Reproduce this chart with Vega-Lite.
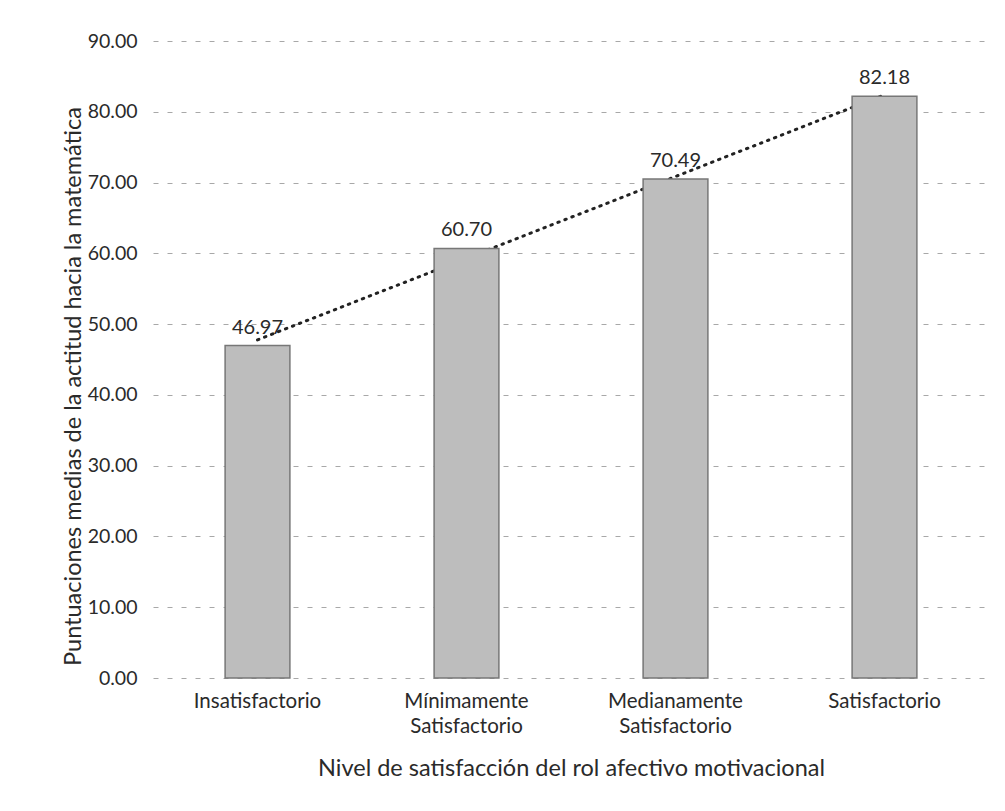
{
  "$schema": "https://vega.github.io/schema/vega-lite/v6.json",
  "autosize": {"type": "none"},
  "width": 836,
  "height": 637,
  "padding": {"left": 153, "top": 41, "right": 16, "bottom": 133},
  "background": "white",
  "config": {
    "view": {"stroke": null},
    "font": "Lato",
    "text": {"font": "Lato"},
    "axisY": {
      "titleFont": "Lato", "titleFontSize": 23.5, "titleFontWeight": "normal", "titleColor": "#2a2a2a",
      "titleAngle": -90, "titleAlign": "center", "titleBaseline": "middle",
      "titleX": -80, "titleY": 345,
      "labelFont": "Lato", "labelFontSize": 19.5, "labelColor": "#2a2a2a", "labelPadding": 16,
      "domain": false, "ticks": false,
      "grid": true, "gridColor": "#a8a8a8", "gridDash": [5, 9], "gridWidth": 1
    }
  },
  "data": {
    "values": [
      {"nivel": "Insatisfactorio", "puntuacion": 46.97},
      {"nivel": "Mínimamente Satisfactorio", "puntuacion": 60.70},
      {"nivel": "Medianamente Satisfactorio", "puntuacion": 70.49},
      {"nivel": "Satisfactorio", "puntuacion": 82.18}
    ]
  },
  "layer": [
    {
      "transform": [
        {"window": [{"op": "row_number", "as": "orden"}]},
        {"regression": "puntuacion", "on": "orden", "method": "linear", "extent": [1, 4]}
      ],
      "mark": {"type": "line", "color": "#222222", "strokeWidth": 3, "strokeDash": [1.5, 6], "strokeCap": "round"},
      "encoding": {
        "x": {"field": "orden", "type": "quantitative", "scale": {"domain": [0.5, 4.5], "nice": false, "zero": false}, "axis": null},
        "y": {
          "field": "puntuacion", "type": "quantitative",
          "scale": {"domain": [0, 90], "nice": false},
          "axis": {
            "title": "Puntuaciones medias de la actitud hacia la matemática",
            "values": [0, 10, 20, 30, 40, 50, 60, 70, 80, 90],
            "format": ".2f"
          }
        }
      }
    },
    {
      "layer": [
        {
          "mark": {"type": "bar", "fill": "#bdbdbd", "stroke": "#777777", "strokeWidth": 1.5},
          "encoding": {
            "x": {
              "field": "nivel", "type": "nominal", "sort": null,
              "scale": {"paddingInner": 0.69, "paddingOuter": 0.345},
              "axis": {
                "title": "Nivel de satisfacción del rol afectivo motivacional",
                "titleFont": "Lato", "titleFontSize": 23.5, "titleFontWeight": "normal", "titleColor": "#2a2a2a",
                "titlePadding": 20,
                "labelAngle": 0, "labelFont": "Lato", "labelFontSize": 20.5, "labelColor": "#2a2a2a",
                "labelPadding": 13, "labelLineHeight": 25,
                "labelExpr": "split(datum.label, ' ')",
                "domain": false, "ticks": false, "grid": false
              }
            },
            "y": {
              "field": "puntuacion", "type": "quantitative",
              "axis": {
                "title": "Puntuaciones medias de la actitud hacia la matemática",
                "values": [0, 10, 20, 30, 40, 50, 60, 70, 80, 90],
                "format": ".2f"
              }
            }
          }
        },
        {
          "mark": {"type": "text", "baseline": "bottom", "dy": -8, "fontSize": 20, "font": "Lato", "color": "#2a2a2a"},
          "encoding": {
            "x": {"field": "nivel", "type": "nominal", "sort": null},
            "y": {"field": "puntuacion", "type": "quantitative"},
            "text": {"field": "puntuacion", "type": "quantitative", "format": ".2f"}
          }
        }
      ]
    }
  ],
  "resolve": {"scale": {"x": "independent"}}
}
